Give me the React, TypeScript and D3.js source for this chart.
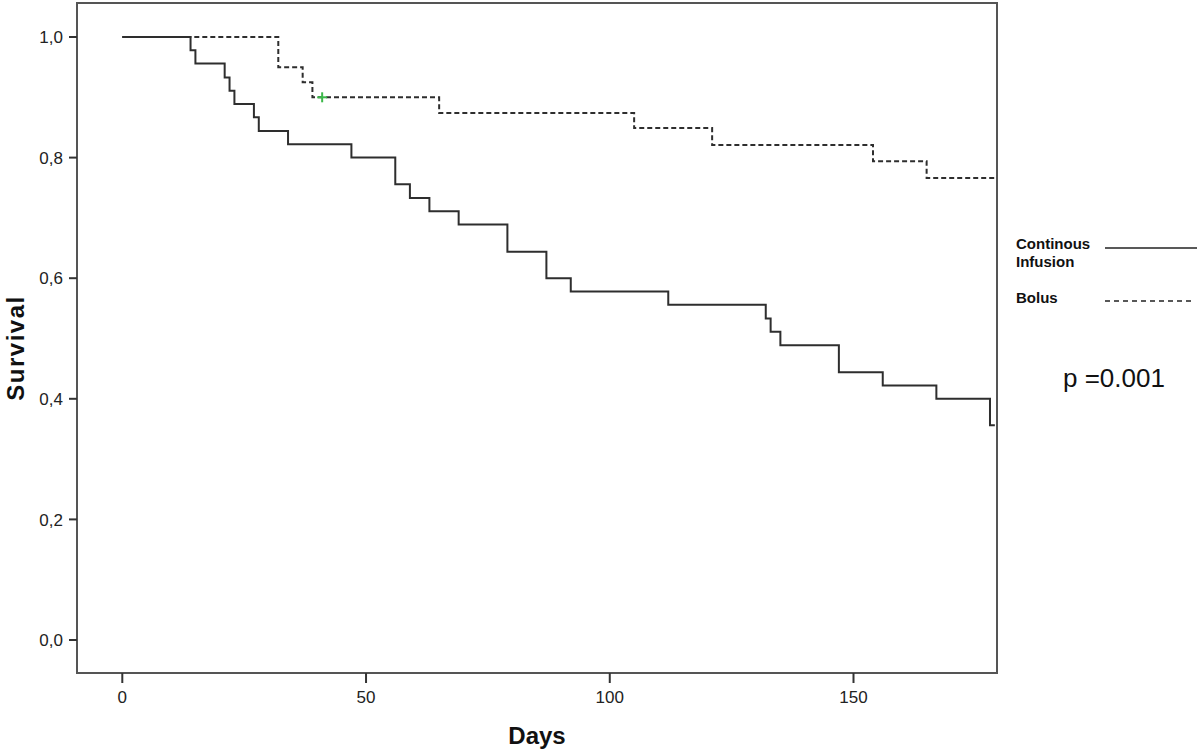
import * as d3 from 'd3';

// Kaplan-Meier steps (days, survival)
const infusionDays = [0, 14, 15, 21, 22, 23, 27, 28, 34, 47, 56, 59, 63, 69, 79, 87, 92, 112, 132, 133, 135, 147, 156, 167, 178, 179];
const infusionSurv = [1.0, 0.978, 0.956, 0.933, 0.911, 0.889, 0.867, 0.844, 0.822, 0.8, 0.756, 0.733, 0.711, 0.689, 0.644, 0.6, 0.578, 0.556, 0.533, 0.511, 0.489, 0.444, 0.422, 0.4, 0.356, 0.356];

const bolusDays = [0, 32, 37, 39, 65, 105, 121, 154, 165, 179];
const bolusSurv = [1.0, 0.95, 0.925, 0.9, 0.874, 0.849, 0.821, 0.794, 0.766, 0.766];
const bolusCensorDays = [41];
const bolusCensorSurv = [0.9];

const xTicks = [0, 50, 100, 150];
const yTicks = [0, 0.2, 0.4, 0.6, 0.8, 1.0];

const legendLabels = [['Continous', 'Infusion'], ['Bolus']];
const pValue = 'p =0.001';

export default function App() {
  const width = 1200;
  const height = 752;
  const frame = { left: 77, right: 997, top: 3, bottom: 673 };

  const x = d3.scaleLinear().domain([0, 150]).range([122.3, 853.5]);
  const y = d3.scaleLinear().domain([0, 1]).range([640, 37]);

  const line = d3.line<[number, number]>()
    .x(d => x(d[0]))
    .y(d => y(d[1]))
    .curve(d3.curveStepAfter);

  const infusion = infusionDays.map((d, i) => [d, infusionSurv[i]] as [number, number]);
  const bolus = bolusDays.map((d, i) => [d, bolusSurv[i]] as [number, number]);

  const fmt = (v: number) => v.toFixed(1).replace('.', ',');
  const font = 'Arial, "Liberation Sans", sans-serif';

  return (
    <svg width={width} height={height} style={{ position: 'absolute', left: 0, top: 0, background: '#fff' }}>
      <rect x={0} y={0} width={width} height={height} fill="#fff" />

      {/* curves */}
      <path d={line(bolus) ?? ''} fill="none" stroke="#2e2e2e" strokeWidth={2} strokeDasharray="5,3" />
      <path d={line(infusion) ?? ''} fill="none" stroke="#2e2e2e" strokeWidth={2} />
      {bolusCensorDays.map((d, i) => (
        <g key={i} transform={`translate(${x(d)},${y(bolusCensorSurv[i])})`} stroke="#3cb84a" strokeWidth={2}>
          <line x1={-5} x2={5} y1={0} y2={0} />
          <line x1={0} x2={0} y1={-5} y2={5} />
        </g>
      ))}

      {/* frame */}
      <rect x={frame.left} y={frame.top} width={frame.right - frame.left} height={frame.bottom - frame.top}
        fill="none" stroke="#555" strokeWidth={2} />

      {/* y axis */}
      {yTicks.map(t => (
        <g key={t}>
          <line x1={frame.left - 8} x2={frame.left} y1={y(t)} y2={y(t)} stroke="#333" strokeWidth={2} />
          <text x={frame.left - 14} y={y(t)} dy="0.36em" textAnchor="end" fontFamily={font} fontSize={17} fill="#222">{fmt(t)}</text>
        </g>
      ))}
      <text transform={`translate(24,${(frame.top + frame.bottom) / 2 + 10}) rotate(-90)`} textAnchor="middle"
        fontFamily={font} fontSize={24} fontWeight="bold" letterSpacing={1.5} fill="#111">Survival</text>

      {/* x axis */}
      {xTicks.map(t => (
        <g key={t}>
          <line x1={x(t)} x2={x(t)} y1={frame.bottom} y2={frame.bottom + 10} stroke="#333" strokeWidth={2} />
          <text x={x(t)} y={703} textAnchor="middle" fontFamily={font} fontSize={17} fill="#222">{t}</text>
        </g>
      ))}
      <text x={(frame.left + frame.right) / 2} y={744} textAnchor="middle" fontFamily={font} fontSize={24} fontWeight="bold" fill="#111">Days</text>

      {/* legend */}
      <text x={1016} y={249} fontFamily={font} fontSize={15} fontWeight="bold" fill="#111">
        <tspan x={1016}>{legendLabels[0][0]}</tspan>
        <tspan x={1016} dy={18}>{legendLabels[0][1]}</tspan>
      </text>
      <line x1={1105} x2={1197} y1={248} y2={248} stroke="#222" strokeWidth={1.3} />
      <text x={1016} y={303} fontFamily={font} fontSize={15} fontWeight="bold" fill="#111">{legendLabels[1][0]}</text>
      <line x1={1105} x2={1195} y1={301} y2={301} stroke="#222" strokeWidth={1.3} strokeDasharray="5,4" />

      <text x={1063} y={387} fontFamily={font} fontSize={26} fill="#111">{pValue}</text>
    </svg>
  );
}
